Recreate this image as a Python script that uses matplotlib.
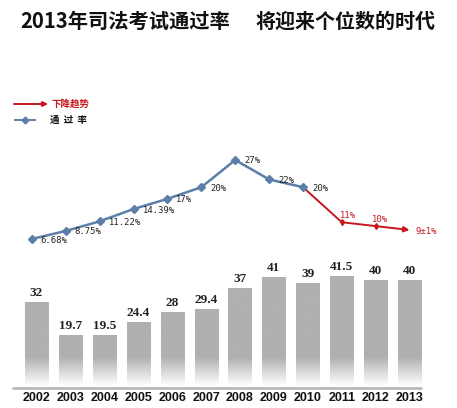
import numpy as np
import matplotlib
matplotlib.use('Agg')
import matplotlib.pyplot as plt
from matplotlib.lines import Line2D

plt.rcParams['font.family'] = ['Noto Sans CJK SC', 'DejaVu Sans']

# data
years = ['2002', '2003', '2004', '2005', '2006', '2007',
         '2008', '2009', '2010', '2011', '2012', '2013']
applicants = [32, 19.7, 19.5, 24.4, 28, 29.4, 37, 41, 39, 41.5, 40, 40]
applicant_labels = ['32', '19.7', '19.5', '24.4', '28', '29.4',
                    '37', '41', '39', '41.5', '40', '40']
pass_rate = [6.68, 8.75, 11.22, 14.39, 17, 20, 27, 22, 20]
rate_labels = ['6.68%', '8.75%', '11.22%', '14.39%', '17%', '20%',
               '27%', '22%', '20%']
trend_rate = [20, 11, 10, 9]          # 2010 -> 2013
trend_labels = ['11%', '10%', '9±1%']

W, H = 457, 408
fig = plt.figure(figsize=(W / 100, H / 100), dpi=100)
ax_bar = fig.add_axes([0, 20 / H, 1, 128 / H])
ax_line = fig.add_axes([0, 148 / H, 1, 110 / H])

x = np.arange(len(years))
xlim = (-1.077, 12.40)
ytop = 47.4

# bars with a fade to white at the bottom
bars = ax_bar.bar(x, applicants, width=0.68, color='none', edgecolor='none')
ys = np.linspace(0, ytop, 400)
shade = 1 - 0.31 * np.clip((ys - 0.8) / 10.5, 0, 1)
img = np.tile(shade[:, None], (1, 2))
for b in bars:
    im = ax_bar.imshow(img, cmap='gray', vmin=0, vmax=1, origin='lower',
                       extent=(xlim[0], xlim[1], 0, ytop), aspect='auto',
                       interpolation='bilinear')
    im.set_clip_path(b)

for xi, v, lab in zip(x, applicants, applicant_labels):
    ax_bar.annotate(lab, (xi, v), xytext=(0, 3), textcoords='offset pixels',
                    ha='center', va='bottom', fontsize=9.5, fontweight='bold',
                    family='Liberation Serif', color='#222222')

ax_bar.hlines(0, -0.72, 11.37, color='#b3b3b3', lw=1.8, clip_on=False)
ax_bar.set_xlim(xlim)
ax_bar.set_ylim(0, ytop)
ax_bar.set_xticks(x, years, fontsize=9, fontweight='bold',
                  family='Liberation Sans', color='#111111')
ax_bar.tick_params(axis='x', length=0, pad=3)
ax_bar.set_yticks([])
for s in ax_bar.spines.values():
    s.set_visible(False)
ax_bar.patch.set_visible(False)

# pass rate line
blue = '#5b7fa8'
red = '#c8161d'
xb = x[:len(pass_rate)] - 0.14
ax_line.plot(xb, pass_rate, color=blue, lw=1.8, marker='D', ms=4.5,
             mec=blue, mfc=blue, zorder=3)
for xi, v, lab in zip(xb, pass_rate, rate_labels):
    ax_line.annotate(lab, (xi, v), xytext=(9, -1), textcoords='offset pixels',
                     ha='left', va='center', fontsize=6.4,
                     family='DejaVu Sans Mono', color='#222222')

xr = [xb[-1], 9, 10]
ax_line.plot(xr, trend_rate[:3], color=red, lw=1.4, marker='d', ms=3,
             mec=red, mfc=red, zorder=2)
ax_line.annotate('', xy=(11, trend_rate[3]), xytext=(10, trend_rate[2]),
                 arrowprops=dict(arrowstyle='-|>', color=red, lw=1.4,
                                 mutation_scale=8, shrinkA=0, shrinkB=0))
offs = [(-2, 7), (-4, 7), (6, -2)]
for xi, v, lab, o in zip([9, 10, 11], trend_rate[1:], trend_labels, offs):
    ax_line.annotate(lab, (xi, v), xytext=o, textcoords='offset pixels',
                     ha='left', va='center', fontsize=6.4,
                     family='DejaVu Sans Mono', color=red)

ax_line.set_xlim(xlim)
ax_line.set_ylim(1.28, 29.57)
ax_line.axis('off')

# legend
ly1 = 1 - 104 / H
ly2 = 1 - 120 / H
ax_line.annotate('', xy=(48, H - 104), xytext=(14, H - 104),
                 xycoords='figure pixels', textcoords='figure pixels',
                 arrowprops=dict(arrowstyle='-|>', color=red, lw=1.4,
                                 mutation_scale=7, shrinkA=0, shrinkB=0))
fig.text(52 / W, ly1, '下降趋势', color=red, fontsize=6.8, fontweight='bold',
         ha='left', va='center')
fig.add_artist(Line2D([15 / W, 35 / W], [ly2, ly2], transform=fig.transFigure,
                      color=blue, lw=1.4))
fig.add_artist(Line2D([25 / W], [ly2], transform=fig.transFigure,
                      color=blue, marker='D', ms=3.5, lw=0))
fig.text(50 / W, ly2, '通  过  率', color='#111111', fontsize=6.8,
         fontweight='bold', ha='left', va='center')

# title
fig.text(20 / W, 1 - 21 / H, '2013年司法考试通过率', fontsize=14.6,
         fontweight='bold', ha='left', va='center', color='#111111')
fig.text(255 / W, 1 - 21 / H, '将迎来个位数的时代', fontsize=14.4,
         fontweight='bold', ha='left', va='center', color='#111111')

fig.savefig('out.png', dpi=100)
